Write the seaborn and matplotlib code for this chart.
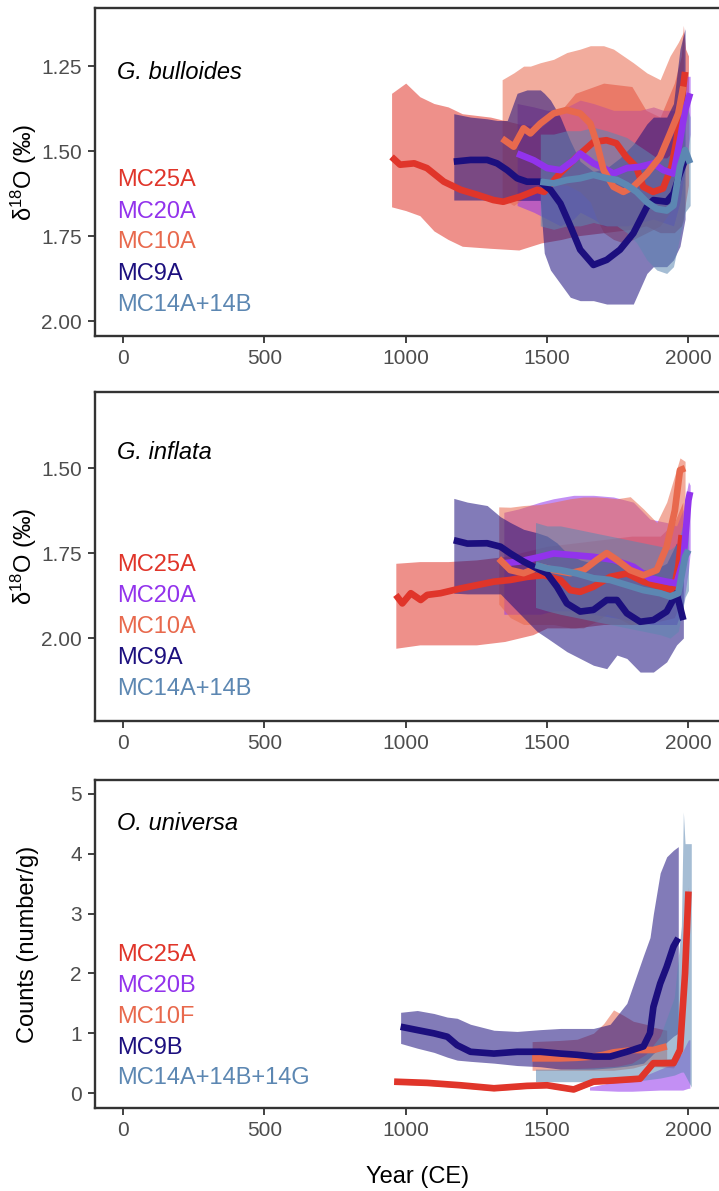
import matplotlib
matplotlib.use("Agg")
import matplotlib.pyplot as plt
import seaborn as sns
import pandas as pd

# ---------------- colours / labels ----------------
series_colors = ["#E0352A", "#9233EC", "#E8694D", "#1C0F7E", "#5C87B2"]
labels_iso = ["MC25A", "MC20A", "MC10A", "MC9A", "MC14A+14B"]
labels_cnt = ["MC25A", "MC20B", "MC10F", "MC9B", "MC14A+14B+14G"]
panel_titles = ["G. bulloides", "G. inflata", "O. universa"]
x_ticks = [0, 500, 1000, 1500, 2000]

# ---------------- Panel 1: G. bulloides d18O ----------------
b25_year = [950, 980, 1030, 1075, 1135, 1195, 1255, 1310, 1345, 1405, 1465, 1490, 1545, 1605, 1665, 1710, 1745, 1780, 1815, 1840, 1875, 1910, 1940, 1958, 1976, 1988]
b25_mean = [1.517, 1.54, 1.536, 1.55, 1.59, 1.614, 1.629, 1.644, 1.649, 1.634, 1.614, 1.62, 1.566, 1.517, 1.473, 1.468, 1.477, 1.517, 1.546, 1.605, 1.62, 1.61, 1.546, 1.468, 1.35, 1.267]
b25_band_year = [950, 1000, 1050, 1100, 1150, 1200, 1300, 1400, 1480, 1550, 1600, 1700, 1800, 1850, 1900, 1950, 1975, 1982, 1990, 2000]
b25_upper = [1.33, 1.30, 1.34, 1.36, 1.37, 1.39, 1.40, 1.42, 1.43, 1.38, 1.33, 1.30, 1.31, 1.38, 1.40, 1.30, 1.22, 1.13, 1.20, 1.22]
b25_lower = [1.664, 1.675, 1.69, 1.735, 1.76, 1.78, 1.786, 1.791, 1.77, 1.76, 1.75, 1.74, 1.73, 1.72, 1.74, 1.74, 1.72, 1.70, 1.65, 1.60]

b20_year = [1394, 1453, 1500, 1547, 1594, 1617, 1664, 1700, 1735, 1782, 1829, 1876, 1911, 1947, 1970, 1988, 2006]
b20_mean = [1.507, 1.527, 1.55, 1.556, 1.527, 1.507, 1.536, 1.55, 1.566, 1.55, 1.546, 1.536, 1.556, 1.566, 1.468, 1.38, 1.33]
b20_upper = [1.36, 1.37, 1.38, 1.38, 1.36, 1.35, 1.36, 1.37, 1.38, 1.38, 1.38, 1.37, 1.38, 1.38, 1.32, 1.28, 1.28]
b20_lower = [1.66, 1.68, 1.70, 1.72, 1.70, 1.68, 1.70, 1.72, 1.72, 1.72, 1.71, 1.70, 1.71, 1.72, 1.65, 1.55, 1.45]

b10_year = [1341, 1382, 1417, 1441, 1476, 1523, 1570, 1617, 1653, 1676, 1700, 1735, 1770, 1805, 1853, 1900, 1935, 1964, 1982]
b10_mean = [1.463, 1.487, 1.433, 1.448, 1.419, 1.389, 1.379, 1.389, 1.419, 1.477, 1.556, 1.605, 1.62, 1.605, 1.566, 1.517, 1.448, 1.389, 1.31]
b10_upper = [1.29, 1.27, 1.25, 1.25, 1.24, 1.23, 1.21, 1.20, 1.19, 1.19, 1.19, 1.20, 1.22, 1.24, 1.27, 1.29, 1.22, 1.18, 1.15]
b10_lower = [1.64, 1.66, 1.64, 1.63, 1.62, 1.60, 1.60, 1.62, 1.65, 1.70, 1.74, 1.76, 1.77, 1.76, 1.74, 1.72, 1.68, 1.62, 1.55]

b9_year = [1170, 1229, 1288, 1323, 1359, 1394, 1429, 1476, 1490, 1512, 1547, 1582, 1617, 1664, 1711, 1758, 1805, 1853, 1876, 1923, 1947, 1970, 1988]
b9_mean = [1.531, 1.526, 1.526, 1.536, 1.556, 1.58, 1.59, 1.59, 1.60, 1.614, 1.654, 1.72, 1.79, 1.835, 1.82, 1.79, 1.742, 1.664, 1.644, 1.649, 1.625, 1.566, 1.526]
b9_upper = [1.39, 1.40, 1.405, 1.41, 1.41, 1.33, 1.32, 1.32, 1.33, 1.35, 1.40, 1.47, 1.53, 1.56, 1.55, 1.52, 1.48, 1.42, 1.40, 1.40, 1.36, 1.20, 1.14]
b9_lower = [1.644, 1.644, 1.644, 1.645, 1.645, 1.645, 1.645, 1.645, 1.80, 1.85, 1.89, 1.93, 1.94, 1.94, 1.95, 1.95, 1.95, 1.86, 1.84, 1.84, 1.82, 1.78, 1.70]

b14_year = [1476, 1523, 1570, 1617, 1664, 1711, 1747, 1782, 1817, 1853, 1888, 1923, 1947, 1970, 1988, 2006]
b14_mean = [1.59, 1.595, 1.585, 1.58, 1.57, 1.58, 1.585, 1.60, 1.62, 1.65, 1.67, 1.675, 1.66, 1.546, 1.497, 1.536]
b14_upper = [1.45, 1.45, 1.44, 1.44, 1.43, 1.44, 1.45, 1.46, 1.48, 1.50, 1.52, 1.52, 1.50, 1.40, 1.35, 1.40]
b14_lower = [1.72, 1.73, 1.72, 1.72, 1.71, 1.72, 1.72, 1.74, 1.77, 1.82, 1.85, 1.86, 1.84, 1.75, 1.68, 1.66]

# ---------------- Panel 2: G. inflata d18O ----------------
i25_year = [965, 988, 1018, 1053, 1076, 1123, 1194, 1253, 1312, 1370, 1429, 1488, 1547, 1582, 1617, 1664, 1723, 1782, 1841, 1900, 1947, 1964, 1976]
i25_mean = [1.873, 1.898, 1.868, 1.888, 1.873, 1.868, 1.854, 1.844, 1.834, 1.829, 1.82, 1.815, 1.829, 1.859, 1.864, 1.849, 1.82, 1.81, 1.834, 1.849, 1.859, 1.79, 1.697]
i25_band_year = [965, 1050, 1150, 1250, 1350, 1450, 1500, 1600, 1700, 1800, 1900, 1950, 1970, 1980]
i25_upper = [1.78, 1.775, 1.775, 1.77, 1.76, 1.74, 1.73, 1.72, 1.71, 1.70, 1.70, 1.66, 1.62, 1.60]
i25_lower = [2.03, 2.02, 2.02, 2.02, 2.01, 1.99, 1.97, 1.97, 1.96, 1.96, 1.95, 1.94, 1.90, 1.85]

i20_year = [1347, 1400, 1476, 1523, 1594, 1664, 1735, 1805, 1864, 1923, 1958, 1982, 2000, 2006]
i20_mean = [1.78, 1.775, 1.761, 1.751, 1.756, 1.761, 1.77, 1.79, 1.824, 1.834, 1.839, 1.77, 1.594, 1.57]
i20_upper = [1.63, 1.62, 1.60, 1.59, 1.58, 1.58, 1.585, 1.60, 1.65, 1.66, 1.67, 1.62, 1.54, 1.55]
i20_lower = [1.93, 1.93, 1.93, 1.92, 1.92, 1.93, 1.94, 1.95, 1.96, 1.96, 1.96, 1.90, 1.80, 1.75]

i10_year = [1329, 1370, 1417, 1476, 1523, 1582, 1629, 1676, 1711, 1747, 1794, 1841, 1888, 1923, 1952, 1970, 1988]
i10_mean = [1.766, 1.80, 1.809, 1.79, 1.80, 1.809, 1.80, 1.77, 1.75, 1.77, 1.80, 1.815, 1.80, 1.731, 1.624, 1.506, 1.50]
i10_upper = [1.614, 1.615, 1.61, 1.607, 1.60, 1.59, 1.585, 1.585, 1.587, 1.59, 1.584, 1.62, 1.66, 1.60, 1.52, 1.47, 1.48]
i10_lower = [1.90, 1.94, 1.96, 1.96, 1.96, 1.97, 1.97, 1.95, 1.93, 1.94, 1.96, 1.96, 1.95, 1.90, 1.80, 1.70, 1.65]

i9_year = [1170, 1218, 1288, 1335, 1370, 1417, 1464, 1500, 1535, 1570, 1617, 1664, 1711, 1747, 1782, 1829, 1876, 1923, 1958, 1982]
i9_mean = [1.712, 1.722, 1.721, 1.731, 1.751, 1.775, 1.795, 1.81, 1.849, 1.898, 1.922, 1.917, 1.888, 1.888, 1.927, 1.952, 1.947, 1.922, 1.868, 1.947]
i9_upper = [1.589, 1.60, 1.61, 1.643, 1.66, 1.68, 1.69, 1.70, 1.72, 1.75, 1.77, 1.78, 1.76, 1.76, 1.78, 1.80, 1.80, 1.78, 1.72, 1.76]
i9_lower = [1.868, 1.87, 1.87, 1.87, 1.90, 1.94, 1.98, 2.00, 2.02, 2.04, 2.06, 2.08, 2.09, 2.05, 2.06, 2.10, 2.10, 2.07, 2.02, 2.00]

i14_year = [1459, 1500, 1547, 1606, 1664, 1723, 1782, 1841, 1900, 1935, 1964, 1988, 2000]
i14_mean = [1.785, 1.795, 1.80, 1.81, 1.824, 1.829, 1.844, 1.859, 1.868, 1.878, 1.868, 1.761, 1.741]
i14_upper = [1.66, 1.67, 1.67, 1.68, 1.69, 1.70, 1.71, 1.72, 1.73, 1.74, 1.72, 1.64, 1.62]
i14_lower = [1.91, 1.92, 1.93, 1.94, 1.95, 1.96, 1.97, 1.98, 1.99, 2.00, 1.98, 1.88, 1.86]

# ---------------- Panel 3: O. universa counts ----------------
u25_year = [959, 1076, 1194, 1312, 1429, 1500, 1594, 1664, 1735, 1829, 1876, 1900, 1947, 1970, 1988, 2000]
u25_mean = [0.19, 0.17, 0.13, 0.08, 0.12, 0.13, 0.06, 0.19, 0.21, 0.24, 0.50, 0.50, 0.50, 0.72, 2.0, 3.37]
u25_upper = [0.23, 0.21, 0.17, 0.12, 0.16, 0.17, 0.10, 0.23, 0.25, 0.28, 0.56, 0.56, 0.58, 0.85, 2.3, 3.45]
u25_lower = [0.15, 0.13, 0.09, 0.04, 0.08, 0.09, 0.02, 0.15, 0.17, 0.20, 0.44, 0.44, 0.42, 0.60, 1.7, 3.2]

u20_band_year = [1650, 1700, 1750, 1800, 1850, 1900, 1950, 1980, 2000, 2005]
u20_upper = [0.10, 0.15, 0.20, 0.25, 0.30, 0.40, 0.50, 0.70, 0.89, 0.89]
u20_lower = [0.05, 0.04, 0.03, 0.03, 0.04, 0.05, 0.05, 0.05, 0.08, 0.08]

u10_year = [1447, 1547, 1606, 1664, 1700, 1735, 1770, 1805, 1850, 1876, 1923]
u10_mean = [0.58, 0.58, 0.59, 0.61, 0.64, 0.68, 0.70, 0.72, 0.72, 0.72, 0.78]
u10_upper = [0.86, 0.88, 0.90, 1.00, 1.16, 1.39, 1.30, 1.20, 1.15, 1.10, 1.05]
u10_lower = [0.38, 0.38, 0.38, 0.38, 0.38, 0.38, 0.40, 0.42, 0.48, 0.52, 0.55]

u9_year = [982, 1041, 1100, 1147, 1182, 1229, 1312, 1394, 1476, 1547, 1606, 1664, 1723, 1782, 1841, 1864, 1876, 1900, 1923, 1947, 1964]
u9_mean = [1.109, 1.053, 0.998, 0.942, 0.80, 0.69, 0.66, 0.69, 0.69, 0.66, 0.64, 0.61, 0.61, 0.69, 0.78, 1.00, 1.44, 1.83, 2.11, 2.45, 2.59]
u9_upper = [1.35, 1.38, 1.33, 1.27, 1.25, 1.15, 1.05, 1.03, 1.06, 1.08, 1.08, 1.08, 1.15, 1.50, 2.30, 2.60, 3.00, 3.68, 3.95, 4.06, 4.12]
u9_lower = [0.83, 0.75, 0.68, 0.60, 0.55, 0.53, 0.50, 0.46, 0.44, 0.40, 0.40, 0.40, 0.42, 0.45, 0.50, 0.60, 0.66, 0.75, 0.85, 0.95, 1.00]

u14_band_year = [1459, 1550, 1650, 1750, 1800, 1850, 1900, 1950, 1975, 1982, 1988, 2010]
u14_upper = [0.40, 0.40, 0.42, 0.45, 0.50, 0.65, 0.95, 1.6, 2.8, 4.7, 4.17, 4.17]
u14_lower = [0.19, 0.19, 0.19, 0.19, 0.20, 0.22, 0.25, 0.30, 0.35, 0.35, 0.30, 0.10]

# ---------------- assemble ----------------
panels = [
    dict(title=panel_titles[0], labels=labels_iso, ylim=(2.044, 1.079), yticks=[1.25, 1.50, 1.75, 2.00], fmt="{:.2f}",
         ylabel=r"δ$^{\mathrm{18}}$O (‰)", title_y=1.268, leg_y=[1.585, 1.679, 1.768, 1.862, 1.953],
         bands=[(b25_band_year, b25_lower, b25_upper), (b20_year, b20_lower, b20_upper), (b10_year, b10_lower, b10_upper),
                (b9_year, b9_lower, b9_upper), (b14_year, b14_lower, b14_upper)],
         lines=[(b25_year, b25_mean), (b20_year, b20_mean), (b10_year, b10_mean), (b9_year, b9_mean), (b14_year, b14_mean)]),
    dict(title=panel_titles[1], labels=labels_iso, ylim=(2.244, 1.276), yticks=[1.50, 1.75, 2.00], fmt="{:.2f}",
         ylabel=r"δ$^{\mathrm{18}}$O (‰)", title_y=1.453, leg_y=[1.785, 1.876, 1.968, 2.059, 2.15],
         bands=[(i25_band_year, i25_lower, i25_upper), (i20_year, i20_lower, i20_upper), (i10_year, i10_lower, i10_upper),
                (i9_year, i9_lower, i9_upper), (i14_year, i14_lower, i14_upper)],
         lines=[(i25_year, i25_mean), (i20_year, i20_mean), (i10_year, i10_mean), (i9_year, i9_mean), (i14_year, i14_mean)]),
    dict(title=panel_titles[2], labels=labels_cnt, ylim=(-0.25, 5.234), yticks=[0, 1, 2, 3, 4, 5], fmt="{:d}",
         ylabel="Counts (number/g)", title_y=4.515, leg_y=[2.31, 1.79, 1.27, 0.75, 0.25],
         bands=[(u25_year, u25_lower, u25_upper), (u20_band_year, u20_lower, u20_upper), (u10_year, u10_lower, u10_upper),
                (u9_year, u9_lower, u9_upper), (u14_band_year, u14_lower, u14_upper)],
         lines=[(u25_year, u25_mean), None, (u10_year, u10_mean), (u9_year, u9_mean), None]),
]

sns.set_theme(style="white")
plt.rcParams["font.family"] = ["Liberation Sans", "DejaVu Sans"]
plt.rcParams["mathtext.fontset"] = "custom"
plt.rcParams["mathtext.rm"] = "Liberation Sans"
plt.rcParams["mathtext.it"] = "Liberation Sans:italic"

W, H = 719, 1191
fig = plt.figure(figsize=(W / 100, H / 100), dpi=100)
ax_px = [(8, 336), (392, 721), (780, 1108)]
left_px, right_px = 94.7, 745.0

for k, (p, (top, bot)) in enumerate(zip(panels, ax_px)):
    ax = fig.add_axes([left_px / W, 1 - bot / H, (right_px - left_px) / W, (bot - top) / H])
    for (yrs, lo, hi), c in zip(p["bands"], series_colors):
        ax.fill_between(yrs, lo, hi, color=c, alpha=0.55, lw=0)
    for ln, c in zip(p["lines"], series_colors):
        if ln is None:
            continue
        df = pd.DataFrame({"year": ln[0], "value": ln[1]})
        sns.lineplot(data=df, x="year", y="value", color=c, lw=4.8, ax=ax,
                     estimator=None, sort=False, solid_capstyle="butt")
    ax.set_xlim(-100, 2200)
    ax.set_ylim(*p["ylim"])
    ax.set_xticks(x_ticks)
    ax.set_xticklabels([str(t) for t in x_ticks])
    ax.set_yticks(p["yticks"])
    ax.set_yticklabels([p["fmt"].format(t) for t in p["yticks"]])
    ax.set_xlabel("")
    ax.set_ylabel(p["ylabel"], fontsize=17, color="black")
    ax.yaxis.set_label_coords((39 - left_px) / (right_px - left_px), 0.5)
    for s in ax.spines.values():
        s.set_visible(True)
        s.set_linewidth(1.7)
        s.set_color("#333333")
    ax.tick_params(axis="both", which="major", bottom=True, left=True, direction="out",
                   length=4.8, width=1.3, color="#333333", labelsize=15, labelcolor="#4D4D4D", pad=4.5)
    ax.text(-20, p["title_y"], p["title"], fontsize=17, style="italic", color="black", va="center", ha="left")
    for lab, yv, c in zip(p["labels"], p["leg_y"], series_colors):
        ax.text(-20, yv, lab, fontsize=17, color=c, va="center", ha="left")

fig.text(418 / W, 1 - 1177 / H, "Year (CE)", fontsize=17, color="black", ha="center", va="center")
fig.savefig("out.png", dpi=100)
